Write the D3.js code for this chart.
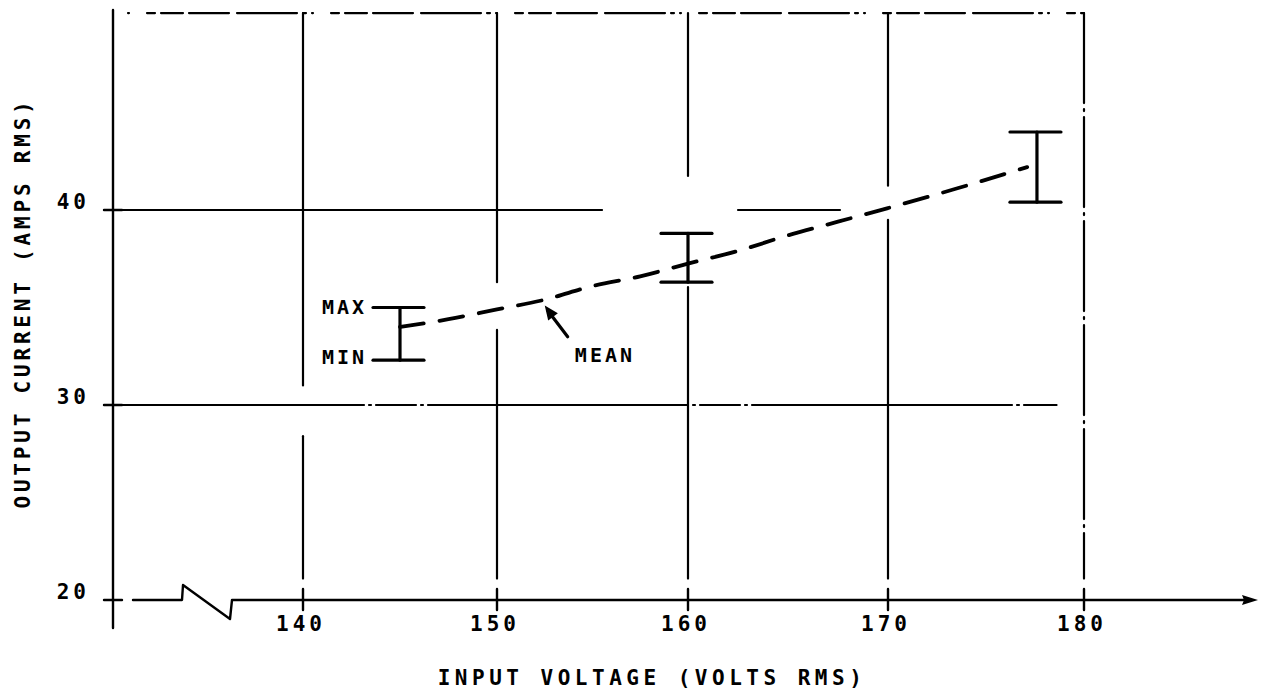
<!DOCTYPE html>
<html>
<head>
<meta charset="utf-8">
<script src="https://cdn.jsdelivr.net/npm/d3@7"></script>
<style>
  html, body { margin: 0; padding: 0; background: #fff; }
  svg { display: block; }
  text { font-family: "DejaVu Sans Mono", "Liberation Mono", monospace; fill: #000; font-weight: bold; }
</style>
</head>
<body>
<svg id="chart" width="1264" height="695"></svg>
<script>
// ---------------- data ----------------
const xTickValues = [140, 150, 160, 170, 180];
const xTickLabels = ["140", "150", "160", "170", "180"];
const yTickValues = [20, 30, 40];
const yTickLabels = ["20", "30", "40"];

// error bars (max / min output current at given input voltage)
const barVolts = [145, 160, 177.6];
const barMax   = [35.0, 38.8, 44.0];
const barMin   = [32.3, 36.3, 40.4];

// mean curve
const meanVolts = [145, 147.5, 150, 152.5, 155, 157.5, 160, 162.5, 165, 167.5, 170, 173.5, 177.1];
const meanAmps  = [34.0, 34.4, 34.9, 35.4, 36.1, 36.6, 37.25, 37.9, 38.7, 39.4, 40.1, 41.1, 42.2];

// grid segments (value ranges along each line)
const vGridVolts = [140, 150, 160, 170];
const vGridSegs  = [
  [[50.1, 31.0], [28.4, 21.1]],
  [[50.1, 36.3], [33.85, 21.1]],
  [[50.1, 41.75], [36.05, 21.1]],
  [[50.1, 41.25], [39.5, 21.1]]
];
const hGridAmps = [40, 30];
const hGridSegs = [
  [[null, 155.5], [162.5, 167.6]],
  [[null, 178.6]]
];

const xTitle = "INPUT VOLTAGE (VOLTS RMS)";
const yTitle = "OUTPUT CURRENT (AMPS RMS)";

// ---------------- layout ----------------
const svg = d3.select("#chart");
const axisX = 113;          // broken-axis origin (pixel)
const x = d3.scaleLinear().domain([140, 150, 160, 170, 180]).range([303, 497, 688, 888, 1084]);
const y = d3.scaleLinear().domain([20, 40]).range([600, 210]);
const topAmp = 50.1;

const g = svg.append("g").attr("stroke", "#000").attr("fill", "none").attr("stroke-linecap", "round");

// left axis
g.append("line").attr("x1", axisX).attr("x2", axisX).attr("y1", y(topAmp) - 3).attr("y2", 628).attr("stroke-width", 2.4);
// left axis tick crosses
yTickValues.forEach(v => {
  g.append("line").attr("x1", axisX - 9).attr("x2", axisX + 9).attr("y1", y(v)).attr("y2", y(v)).attr("stroke-width", 2.4);
});

// bottom axis with break
const yb = y(20);
const breakPath = d3.path();
breakPath.moveTo(133, yb);
breakPath.lineTo(182, yb);
breakPath.lineTo(183, yb - 15);
breakPath.lineTo(230, yb + 19);
breakPath.lineTo(232, yb);
breakPath.lineTo(1245, yb);
g.append("path").attr("d", breakPath.toString()).attr("stroke-width", 2.4).attr("stroke-linejoin", "round");
// arrow head
svg.append("path")
  .attr("d", `M1258,${yb} L1242,${yb - 5} L1244,${yb} L1242,${yb + 5} Z`)
  .attr("fill", "#000");

// x tick marks
xTickValues.forEach(v => {
  g.append("line").attr("x1", x(v)).attr("x2", x(v)).attr("y1", yb - 11).attr("y2", yb + 10).attr("stroke-width", 2.4);
});

// vertical grid
vGridVolts.forEach((v, i) => {
  vGridSegs[i].forEach(s => {
    g.append("line").attr("x1", x(v)).attr("x2", x(v)).attr("y1", y(s[0])).attr("y2", y(s[1])).attr("stroke-width", 2.2);
  });
});
// right border at 180 (dash-dot)
g.append("line").attr("x1", x(180)).attr("x2", x(180)).attr("y1", y(topAmp)).attr("y2", y(21.1))
  .attr("stroke-width", 2.2).attr("stroke-dasharray", "90,6,2,6");
// top border (dashed)
g.append("line").attr("x1", axisX + 15).attr("x2", x(180)).attr("y1", y(topAmp)).attr("y2", y(topAmp))
  .attr("stroke-width", 2.2).attr("stroke-dasharray", "1,18,8,6,22,6,40,8,60,6,3,6");

// horizontal grid
hGridAmps.forEach((a, i) => {
  hGridSegs[i].forEach(s => {
    const x1 = s[0] === null ? axisX - 9 : x(s[0]);
    g.append("line").attr("x1", x1).attr("x2", x(s[1])).attr("y1", y(a)).attr("y2", y(a))
      .attr("stroke-width", 2.2)
      .attr("stroke-dasharray", i === 1 ? "260,5,2,5,40,5,2,5" : null);
  });
});

// error bars
barVolts.forEach((v, i) => {
  const cx = x(v);
  g.append("line").attr("x1", cx).attr("x2", cx).attr("y1", y(barMax[i])).attr("y2", y(barMin[i])).attr("stroke-width", 3.2);
  [barMax[i], barMin[i]].forEach(a => {
    g.append("line").attr("x1", cx - 27).attr("x2", cx + 24).attr("y1", y(a)).attr("y2", y(a)).attr("stroke-width", 3.2);
  });
});

// mean curve
const meanData = meanVolts.map((v, i) => [v, meanAmps[i]]);
g.append("path")
  .attr("d", d3.line().x(d => x(d[0])).y(d => y(d[1])).curve(d3.curveMonotoneX)(meanData))
  .attr("stroke-width", 3.8)
  .attr("stroke-dasharray", "24,16");

// MEAN arrow
const tip = [152.5, 35.1], tail = [153.7, 33.5];
g.append("line").attr("x1", x(tail[0])).attr("y1", y(tail[1])).attr("x2", x(tip[0]) + 3).attr("y2", y(tip[1]) + 5).attr("stroke-width", 3.2);
{
  const tx = x(tip[0]), ty = y(tip[1]);
  const ang = Math.atan2(y(tail[1]) - ty, x(tail[0]) - tx);
  const L = 14, W = 6;
  const bx = tx + L * Math.cos(ang), by = ty + L * Math.sin(ang);
  const px = -Math.sin(ang) * W, py = Math.cos(ang) * W;
  svg.append("path").attr("d", `M${tx},${ty} L${bx + px},${by + py} L${bx - px},${by - py} Z`).attr("fill", "#000");
}

// ---------------- text ----------------
const fs = 21, ls = 4;
// x tick labels
xTickValues.forEach((v, i) => {
  svg.append("text").attr("x", x(v) - 4 + ls / 2).attr("y", 631)
    .attr("text-anchor", "middle").attr("font-size", fs).attr("letter-spacing", ls).text(xTickLabels[i]);
});
// y tick labels
yTickValues.forEach((v, i) => {
  svg.append("text").attr("x", 86 + ls).attr("y", y(v) - 1)
    .attr("text-anchor", "end").attr("font-size", fs).attr("letter-spacing", ls).text(yTickLabels[i]);
});
// axis titles
svg.append("text").attr("x", 650 + ls / 2).attr("y", 685)
  .attr("text-anchor", "middle").attr("font-size", fs).attr("letter-spacing", 4.5).text(xTitle);
svg.append("text").attr("transform", `translate(30,${303}) rotate(-90)`)
  .attr("text-anchor", "middle").attr("font-size", fs).attr("letter-spacing", 3.8).text(yTitle);

// MAX / MIN labels (end just left of the caps' leaders)
const capLeft = x(barVolts[0]) - 27;
svg.append("text").attr("x", capLeft - 9 + 3).attr("y", y(barMax[0]) + 6)
  .attr("text-anchor", "end").attr("font-size", fs - 1).attr("letter-spacing", 3).text("MAX");
svg.append("text").attr("x", capLeft - 9 + 3).attr("y", y(barMin[0]) + 4)
  .attr("text-anchor", "end").attr("font-size", fs - 1).attr("letter-spacing", 3).text("MIN");

// MEAN label
svg.append("text").attr("x", x(155.6) + 1).attr("y", y(32.6) + 8)
  .attr("text-anchor", "middle").attr("font-size", fs - 1).attr("letter-spacing", 3).text("MEAN");
</script>
</body>
</html>
